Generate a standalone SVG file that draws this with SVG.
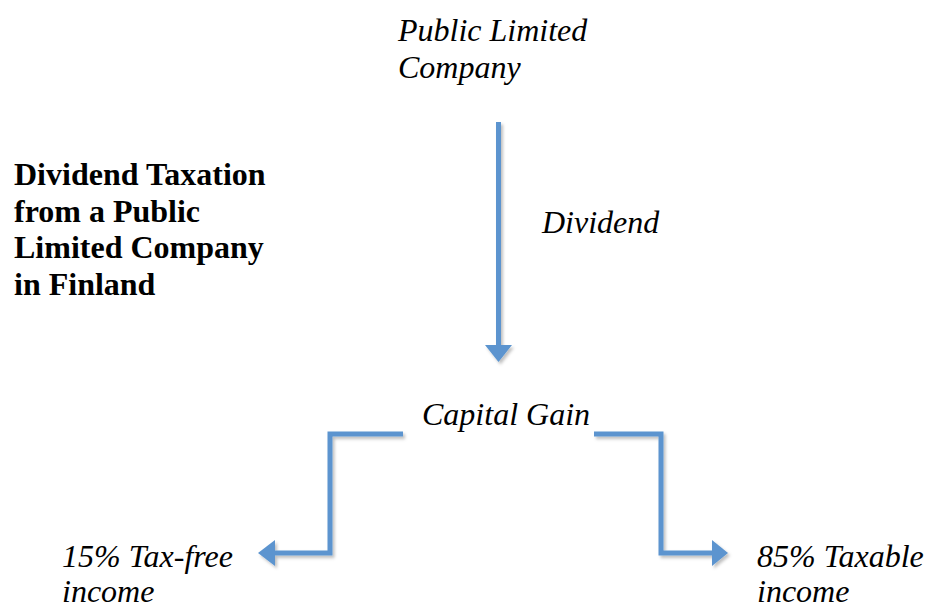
<svg xmlns="http://www.w3.org/2000/svg" width="929" height="608" viewBox="0 0 929 608">
<defs>
<style>
.t{font-family:"Liberation Serif","Times New Roman",serif;font-size:32px;font-style:italic;fill:#000}
.b{font-family:"Liberation Serif","Times New Roman",serif;font-size:32px;font-weight:bold;fill:#000}
.ln{fill:none;stroke:#5b94cf;stroke-width:5;stroke-linejoin:miter}
.hd{fill:#5b94cf;stroke:none}
</style>
<filter id="sh" x="-20%" y="-20%" width="140%" height="140%">
<feDropShadow dx="2" dy="2.5" stdDeviation="1.5" flood-color="#000" flood-opacity="0.25"/>
</filter>
</defs>
<rect width="929" height="608" fill="#fff"/>
<g id="title">
<text class="b" x="14" y="185">Dividend Taxation</text>
<text class="b" x="14" y="222">from a Public</text>
<text class="b" x="14" y="258">Limited Company</text>
<text class="b" x="14" y="295">in Finland</text>
</g>
<g id="company">
<text class="t" x="398" y="41">Public Limited</text>
<text class="t" x="398" y="78">Company</text>
</g>
<g id="dividend-label">
<text class="t" x="542" y="233">Dividend</text>
</g>
<g id="capital-gain">
<text class="t" x="422" y="425">Capital Gain</text>
</g>
<g id="tax-free">
<text class="t" x="62" y="567">15% Tax-free</text>
<text class="t" x="62" y="602">income</text>
</g>
<g id="taxable">
<text class="t" x="757" y="567">85% Taxable</text>
<text class="t" x="757" y="602">income</text>
</g>
<g id="connectors" filter="url(#sh)">
<path class="ln" d="M498.5 122 V346"/>
<polygon class="hd" points="485,345 512,345 498.5,362"/>
<path class="ln" d="M403 434 H330 V553 H274"/>
<polygon class="hd" points="258,553 275,540 275,566"/>
<path class="ln" d="M594 434 H661 V553 H712"/>
<polygon class="hd" points="728,553 712,540 712,566"/>
</g>
</svg>
